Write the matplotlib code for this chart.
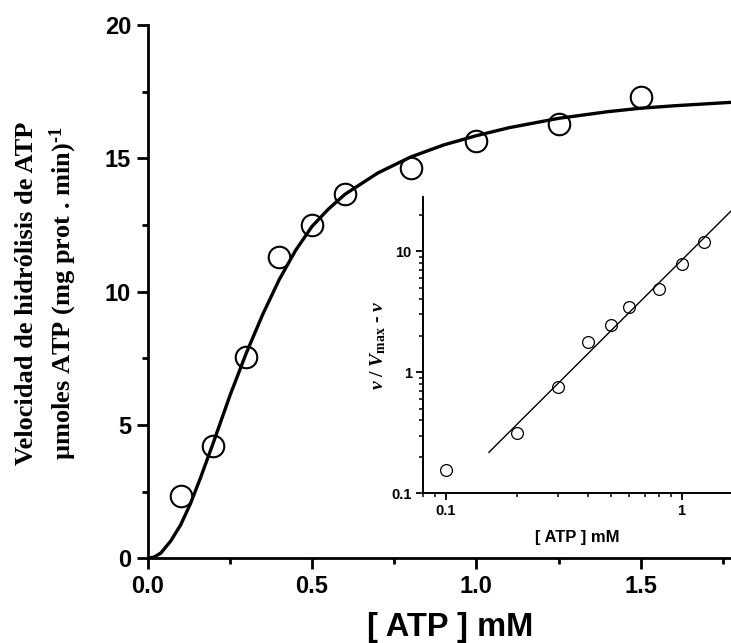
import matplotlib
matplotlib.use("Agg")
import matplotlib.pyplot as plt
from matplotlib.ticker import MultipleLocator, FuncFormatter, LogLocator, NullFormatter

# datos
atp_mm = [0.1, 0.2, 0.3, 0.4, 0.5, 0.6, 0.8, 1.0, 1.25, 1.5]
velocidad = [2.35, 4.2, 7.55, 11.3, 12.5, 13.65, 14.65, 15.65, 16.3, 17.3]

# curva ajustada (leida punto a punto)
ajuste_x = [0.0, 0.02, 0.04, 0.07, 0.1, 0.13, 0.16, 0.2, 0.25, 0.3, 0.35, 0.4,
            0.45, 0.5, 0.55, 0.6, 0.7, 0.8, 0.9, 1.0, 1.1, 1.25, 1.4, 1.5, 1.6, 1.775]
ajuste_y = [0.0, 0.05, 0.2, 0.65, 1.25, 2.05, 3.0, 4.35, 6.1, 7.7, 9.15, 10.45,
            11.55, 12.45, 13.1, 13.65, 14.45, 15.05, 15.5, 15.85, 16.15, 16.5,
            16.75, 16.88, 16.97, 17.1]

# grafico de Hill (inserto)
hill_x = [0.1, 0.2, 0.3, 0.4, 0.5, 0.6, 0.8, 1.0, 1.25]
hill_cociente = [0.157, 0.316, 0.752, 1.78, 2.45, 3.44, 4.89, 7.87, 11.87]
recta_x = [0.1526, 1.62]
recta_y = [0.218, 21.4]

sans = ['Liberation Sans', 'DejaVu Sans']
narrow = ['Liberation Sans Narrow', 'Liberation Sans', 'DejaVu Sans']
serif = ['Liberation Serif', 'DejaVu Serif']

plt.rcParams['font.family'] = sans
plt.rcParams['mathtext.fontset'] = 'custom'
plt.rcParams['mathtext.rm'] = 'Liberation Serif:bold'
plt.rcParams['mathtext.it'] = 'Liberation Serif:italic:bold'
plt.rcParams['mathtext.bf'] = 'Liberation Serif:bold'

fig = plt.figure(figsize=(7.31, 6.43), dpi=100)
ax = fig.add_axes([0.2021, 0.1317, 0.798, 0.8294])

ax.plot(ajuste_x, ajuste_y, color='black', lw=2.4, zorder=2)
ax.plot(atp_mm, velocidad, 'o', ms=15.5, mfc='none', mec='black', mew=1.5, zorder=3)

ax.set_xlim(0, 1.775)
ax.set_ylim(0, 20)
ax.xaxis.set_major_locator(MultipleLocator(0.5))
ax.xaxis.set_minor_locator(MultipleLocator(0.25))
ax.yaxis.set_major_locator(MultipleLocator(5))
ax.yaxis.set_minor_locator(MultipleLocator(2.5))
ax.xaxis.set_major_formatter(FuncFormatter(lambda v, p: f'{v:.1f}'))
ax.yaxis.set_major_formatter(FuncFormatter(lambda v, p: f'{v:.0f}'))

for s in ['top', 'right']:
    ax.spines[s].set_visible(False)
for s in ['left', 'bottom']:
    ax.spines[s].set_linewidth(2.0)
ax.tick_params(which='major', direction='out', length=8, width=2, pad=4)
ax.tick_params(which='minor', direction='out', length=4.5, width=2)
for lab in ax.get_xticklabels() + ax.get_yticklabels():
    lab.set_fontsize(17)
    lab.set_fontweight('bold')
    lab.set_family(sans)

ax.set_xlabel('[ ATP ] mM', fontsize=23.5, fontweight='bold', family=narrow, labelpad=5)
ax.xaxis.set_label_coords(0.518, -0.1)

fig.text(27 / 731, 0.544, 'Velocidad de hidrólisis de ATP', rotation=90,
         ha='center', va='center', fontsize=19, fontweight='bold', family=serif)
fig.text(63 / 731, 0.544, 'µmoles ATP (mg prot . min)$^{\\text{-1}}$', rotation=90,
         ha='center', va='center', fontsize=19, fontweight='bold', family=serif)

# inserto
ins = fig.add_axes([0.5783, 0.2328, 0.4217, 0.4604])
ins.patch.set_alpha(0)
ins.set_xscale('log')
ins.set_yscale('log')
ins.plot(recta_x, recta_y, color='black', lw=1.0)
ins.plot(hill_x, hill_cociente, 'o', ms=8.5, mfc='none', mec='black', mew=0.9)
ins.set_xlim(0.08, 1.62)
ins.set_ylim(0.1, 27.8)
for s in ['top', 'right']:
    ins.spines[s].set_visible(False)
for s in ['left', 'bottom']:
    ins.spines[s].set_linewidth(1.4)
ins.xaxis.set_major_locator(LogLocator(base=10))
ins.yaxis.set_major_locator(LogLocator(base=10))
ins.xaxis.set_minor_locator(LogLocator(base=10, subs=range(2, 10)))
ins.yaxis.set_minor_locator(LogLocator(base=10, subs=range(2, 10)))
ins.xaxis.set_minor_formatter(NullFormatter())
ins.yaxis.set_minor_formatter(NullFormatter())
ins.xaxis.set_major_formatter(FuncFormatter(lambda v, p: f'{v:g}'))
ins.yaxis.set_major_formatter(FuncFormatter(lambda v, p: f'{v:g}'))
ins.tick_params(which='major', direction='out', length=5, width=1.3, pad=3)
ins.tick_params(which='minor', direction='out', length=3, width=1.1)
for lab in ins.get_xticklabels() + ins.get_yticklabels():
    lab.set_fontsize(10.5)
    lab.set_fontweight('bold')
    lab.set_family(narrow)

ins.set_xlabel('[ ATP ] mM', fontsize=12, fontweight='bold', family=narrow, labelpad=8)
ins.set_ylabel('$v$ / $V_{\\mathrm{max}}$ - $v$', fontsize=14, fontweight='bold',
               family=serif, labelpad=2)

fig.savefig('out.png', dpi=100)
